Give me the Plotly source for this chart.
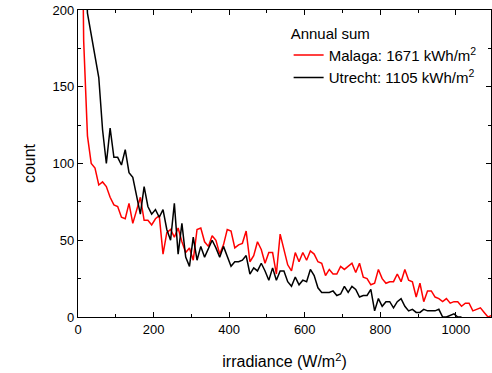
import plotly.graph_objects as go

irradiance = [5 + 10 * i for i in range(110)]

malaga = [400, 180, 118, 100, 97, 86, 88, 85, 78, 73,
          72, 65, 64, 74, 61, 70, 78, 63, 63, 60,
          64, 66, 41, 55, 57, 52, 58, 49, 42, 45,
          37, 57, 58, 49, 46, 53, 50, 41, 47, 57,
          56, 45, 47, 48, 56, 36, 40, 49, 44, 35,
          42, 42, 28, 54, 44, 34, 30, 42, 36, 42,
          37, 43, 41, 36, 35, 27, 31, 28, 28, 33,
          31, 33, 35, 29, 35, 26, 25, 21, 22, 31,
          25, 22, 23, 23, 28, 23, 31, 24, 23, 13,
          22, 10, 17, 17, 13, 12, 10, 12, 9, 10,
          10, 7, 9, 9, 4, 5, 6, 3, 0, 1]

utrecht = [400, 260, 198, 184, 172, 156, 122, 100, 123, 104,
           104, 99, 109, 94, 91, 79, 67, 85, 72, 67,
           70, 65, 70, 57, 50, 74, 41, 61, 39, 33,
           52, 37, 46, 39, 45, 50, 45, 39, 46, 39,
           33, 36, 36, 37, 40, 28, 32, 30, 35, 30,
           24, 32, 24, 30, 30, 23, 20, 26, 21, 24,
           23, 31, 27, 19, 16, 16, 16, 17, 14, 15,
           20, 16, 20, 18, 13, 14, 14, 18, 4, 12,
           7, 10, 10, 6, 10, 12, 7, 4, 5, 3,
           3, 5, 4, 4, 4, 5, 0, 0, 1, 2,
           0, 0]

names = ["Malaga: 1671 kWh/m<sup>2</sup>", "Utrecht: 1105 kWh/m<sup>2</sup>"]
colors = ["#ff0000", "#000000"]

fig = go.Figure()
fig.add_trace(go.Scatter(x=irradiance[:len(malaga)], y=malaga, mode="lines",
                         name=names[0], line=dict(color=colors[0], width=1.5)))
fig.add_trace(go.Scatter(x=irradiance[:len(utrecht)], y=utrecht, mode="lines",
                         name=names[1], line=dict(color=colors[1], width=1.5)))

font_family = "Liberation Sans, Arial, sans-serif"
axis_common = dict(
    showline=True, linecolor="black", linewidth=1.2, mirror="ticks",
    ticks="inside", ticklen=5, tickwidth=1.2, tickcolor="black",
    showgrid=False, zeroline=False,
    tickfont=dict(family=font_family, size=13, color="black"),
)

fig.update_layout(
    width=492, height=373,
    margin=dict(l=78, r=1, t=10, b=55.5),
    paper_bgcolor="white", plot_bgcolor="white",
    font=dict(family=font_family, color="black"),
    legend=dict(
        x=0.51, y=0.97, xanchor="left", yanchor="top",
        bgcolor="rgba(0,0,0,0)",
        font=dict(family=font_family, size=15, color="black"),
        title=dict(text="Annual sum", font=dict(family=font_family, size=15, color="black")),
        tracegroupgap=0,
    ),
    showlegend=True,
)
fig.update_xaxes(range=[0, 1093], dtick=200, tick0=0,
                 minor=dict(dtick=100, ticks="inside", ticklen=3, tickwidth=1.2, tickcolor="black"),
                 title=dict(text="irradiance (W/m<sup>2</sup>)", font=dict(family=font_family, size=16), standoff=20),
                 **axis_common)
fig.update_yaxes(range=[0, 200], dtick=50, tick0=0,
                 minor=dict(dtick=25, ticks="inside", ticklen=3, tickwidth=1.2, tickcolor="black"),
                 title=dict(text="count", font=dict(family=font_family, size=16), standoff=12),
                 **axis_common)

fig.write_html("out.html")
